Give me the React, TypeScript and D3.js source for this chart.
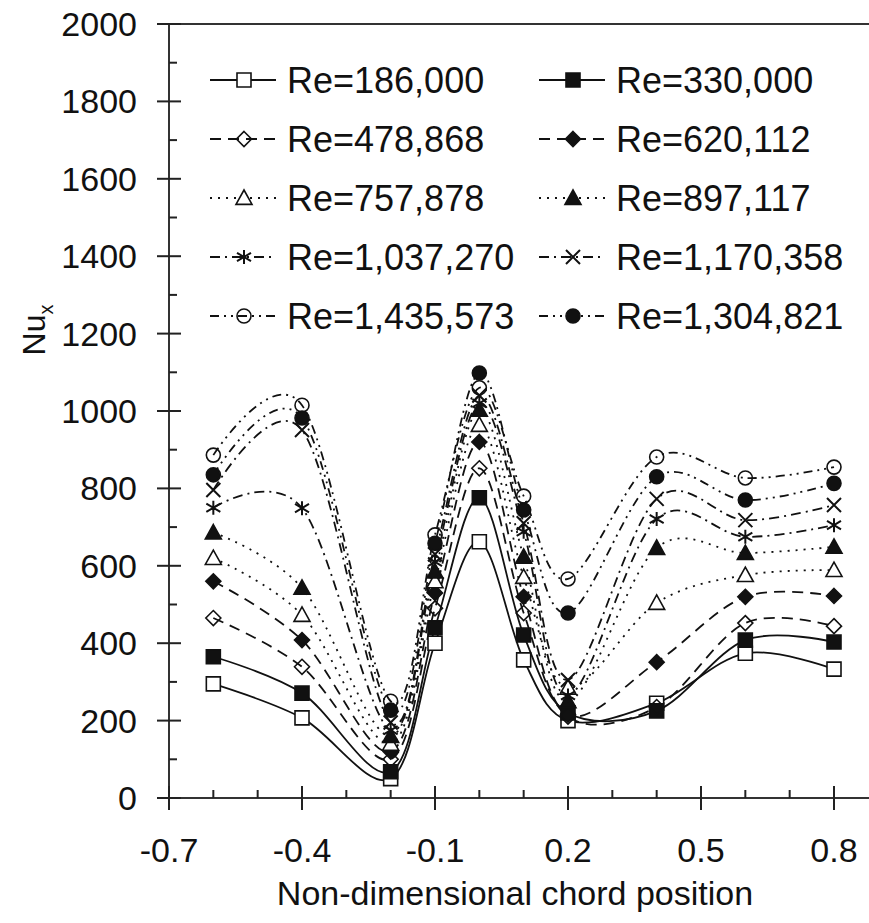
import React, { useEffect, useRef } from 'react';
import * as d3 from 'd3';

// chord positions where Nu was measured
const chordPositions = [-0.6, -0.4, -0.2, -0.1, 0.0, 0.1, 0.2, 0.4, 0.6, 0.8];

// Nu_x values per Reynolds number
const nuRe186000 = [295, 207, 50, 400, 662, 357, 200, 245, 374, 333];
const nuRe330000 = [365, 271, 68, 440, 776, 421, 220, 225, 408, 403];
const nuRe478868 = [465, 339, 100, 490, 852, 478, 210, 235, 452, 444];
const nuRe620112 = [560, 408, 120, 530, 920, 520, 215, 351, 520, 522];
const nuRe757878 = [620, 473, 140, 560, 964, 571, 285, 504, 576, 589];
const nuRe897117 = [686, 543, 160, 585, 1003, 623, 250, 646, 633, 649];
const nuRe1037270 = [750, 749, 175, 610, 1020, 688, 265, 721, 675, 705];
const nuRe1170358 = [796, 951, 195, 630, 1040, 710, 305, 773, 718, 757];
const nuRe1435573 = [886, 1015, 250, 680, 1060, 780, 566, 881, 827, 855];
const nuRe1304821 = [835, 982, 227, 658, 1098, 744, 478, 830, 770, 813];

const seriesLabels = [
  'Re=186,000', 'Re=330,000',
  'Re=478,868', 'Re=620,112',
  'Re=757,878', 'Re=897,117',
  'Re=1,037,270', 'Re=1,170,358',
  'Re=1,435,573', 'Re=1,304,821',
];
const seriesValues = [
  nuRe186000, nuRe330000,
  nuRe478868, nuRe620112,
  nuRe757878, nuRe897117,
  nuRe1037270, nuRe1170358,
  nuRe1435573, nuRe1304821,
];

const xMajorTicks = [-0.7, -0.4, -0.1, 0.2, 0.5, 0.8];
const xTickLabels = ['-0.7', '-0.4', '-0.1', '0.2', '0.5', '0.8'];
const yMajorTicks = [0, 200, 400, 600, 800, 1000, 1200, 1400, 1600, 1800, 2000];

// marker + dash style for each series, same order as above
const styles = [
  { marker: 'square', filled: false, dash: null },
  { marker: 'square', filled: true, dash: null },
  { marker: 'diamond', filled: false, dash: '11,7' },
  { marker: 'diamond', filled: true, dash: '11,7' },
  { marker: 'triangle', filled: false, dash: '2,6' },
  { marker: 'triangle', filled: true, dash: '2,6' },
  { marker: 'asterisk', filled: false, dash: '10,5,2,5' },
  { marker: 'cross', filled: false, dash: '10,5,2,5' },
  { marker: 'circle', filled: false, dash: '9,5,2,5,2,5' },
  { marker: 'circle', filled: true, dash: '9,5,2,5,2,5' },
];

function markerPath(type: string, s: number) {
  const h = s / 2;
  const p = d3.path();
  if (type === 'square') {
    p.rect(-h, -h, s, s);
  } else if (type === 'diamond') {
    p.moveTo(0, -h); p.lineTo(h, 0); p.lineTo(0, h); p.lineTo(-h, 0); p.closePath();
  } else if (type === 'triangle') {
    p.moveTo(0, -h); p.lineTo(h, h * 0.8); p.lineTo(-h, h * 0.8); p.closePath();
  } else if (type === 'circle') {
    p.moveTo(h, 0); p.arc(0, 0, h, 0, Math.PI * 2);
  } else if (type === 'cross') {
    p.moveTo(-h, -h); p.lineTo(h, h); p.moveTo(h, -h); p.lineTo(-h, h);
  } else if (type === 'asterisk') {
    p.moveTo(-h, -h * 0.6); p.lineTo(h, h * 0.6); p.moveTo(h, -h * 0.6); p.lineTo(-h, h * 0.6);
    p.moveTo(0, -h); p.lineTo(0, h);
  }
  return p.toString();
}

const App = () => {
  const ref = useRef<SVGSVGElement | null>(null);

  useEffect(() => {
    document.body.style.margin = '0';
    const svg = d3.select(ref.current);
    svg.selectAll('*').remove();

    const font = 'Arial, "Liberation Sans", Helvetica, sans-serif';
    const x = d3.scaleLinear().domain([-0.7, 0.8]).range([169, 834]);
    const y = d3.scaleLinear().domain([0, 2000]).range([798, 24]);
    const ink = '#111';

    // frame: top line and axes
    svg.append('line').attr('x1', 158).attr('x2', 869).attr('y1', y(2000)).attr('y2', y(2000))
      .attr('stroke', '#333').attr('stroke-width', 2);
    svg.append('line').attr('x1', x(-0.7)).attr('x2', x(-0.7)).attr('y1', y(2000)).attr('y2', y(0) + 12)
      .attr('stroke', '#333').attr('stroke-width', 2);
    svg.append('line').attr('x1', 158).attr('x2', 869).attr('y1', y(0)).attr('y2', y(0))
      .attr('stroke', '#333').attr('stroke-width', 2);

    // x ticks
    const xMinor = d3.range(-6, 9).map(i => i / 10).filter(v => !xMajorTicks.some(m => Math.abs(m - v) < 1e-6));
    xMajorTicks.forEach((v, i) => {
      svg.append('line').attr('x1', x(v)).attr('x2', x(v)).attr('y1', y(0) - 12).attr('y2', y(0) + 12)
        .attr('stroke', '#222').attr('stroke-width', 2);
      svg.append('text').attr('x', x(v)).attr('y', 862).attr('text-anchor', 'middle')
        .attr('font-family', font).attr('font-size', 34).attr('fill', ink).text(xTickLabels[i]);
    });
    xMinor.forEach(v => {
      svg.append('line').attr('x1', x(v)).attr('x2', x(v)).attr('y1', y(0) - 8).attr('y2', y(0))
        .attr('stroke', '#222').attr('stroke-width', 2);
    });

    // y ticks
    yMajorTicks.forEach(v => {
      svg.append('line').attr('x1', x(-0.7) - 12).attr('x2', x(-0.7) + 12).attr('y1', y(v)).attr('y2', y(v))
        .attr('stroke', '#222').attr('stroke-width', 2);
      svg.append('text').attr('x', 137).attr('y', y(v) + 12).attr('text-anchor', 'end')
        .attr('font-family', font).attr('font-size', 34).attr('fill', ink).text(v);
    });
    d3.range(100, 2000, 200).forEach(v => {
      svg.append('line').attr('x1', x(-0.7)).attr('x2', x(-0.7) + 8).attr('y1', y(v)).attr('y2', y(v))
        .attr('stroke', '#222').attr('stroke-width', 2);
    });

    // axis titles
    svg.append('text').attr('x', 515).attr('y', 905).attr('text-anchor', 'middle')
      .attr('font-family', font).attr('font-size', 34).attr('fill', ink)
      .text('Non-dimensional chord position');
    const yTitle = svg.append('text').attr('transform', 'translate(45,330) rotate(-90)')
      .attr('text-anchor', 'middle').attr('font-family', font).attr('font-size', 32).attr('fill', ink);
    yTitle.append('tspan').text('Nu');
    yTitle.append('tspan').attr('font-size', 20).attr('dy', 8).text('x');

    // curves
    const line = d3.line<[number, number]>()
      .x(d => x(d[0]))
      .y(d => y(d[1]))
      .curve(d3.curveCardinal.tension(0));

    seriesValues.forEach((vals, i) => {
      const pts = chordPositions.map((c, j) => [c, vals[j]] as [number, number]);
      svg.append('path').attr('d', line(pts))
        .attr('fill', 'none').attr('stroke', ink).attr('stroke-width', 1.8)
        .attr('stroke-dasharray', styles[i].dash);
    });

    const drawMarker = (g: any, st: any, cx: number, cy: number) => {
      const open = !st.filled;
      const isLine = st.marker === 'cross' || st.marker === 'asterisk';
      const size = st.marker === 'triangle' ? 16 : st.marker === 'diamond' ? 15 : 14;
      g.append('path').attr('d', markerPath(st.marker, size))
        .attr('transform', `translate(${cx},${cy})`)
        .attr('fill', isLine ? 'none' : open ? (st.marker === 'circle' || st.marker === 'diamond' ? 'none' : '#fff') : ink)
        .attr('stroke', ink).attr('stroke-width', isLine ? 2 : 1.6);
    };

    seriesValues.forEach((vals, i) => {
      chordPositions.forEach((c, j) => drawMarker(svg, styles[i], x(c), y(vals[j])));
    });

    // legend, two columns
    const legendX = [210, 539];
    const legendY = [80, 139, 198, 257, 316];
    seriesLabels.forEach((label, i) => {
      const col = i % 2;
      const row = Math.floor(i / 2);
      const lx = legendX[col];
      const ly = legendY[row];
      svg.append('line').attr('x1', lx).attr('x2', lx + 66).attr('y1', ly).attr('y2', ly)
        .attr('stroke', ink).attr('stroke-width', 1.8).attr('stroke-dasharray', styles[i].dash);
      drawMarker(svg, styles[i], lx + 34, ly);
      svg.append('text').attr('x', lx + 77).attr('y', ly + 13)
        .attr('font-family', font).attr('font-size', 36).attr('fill', ink).text(label);
    });
  }, []);

  return <svg ref={ref} width={869} height={923} style={{ display: 'block', background: '#fff' }} />;
};

export default App;
